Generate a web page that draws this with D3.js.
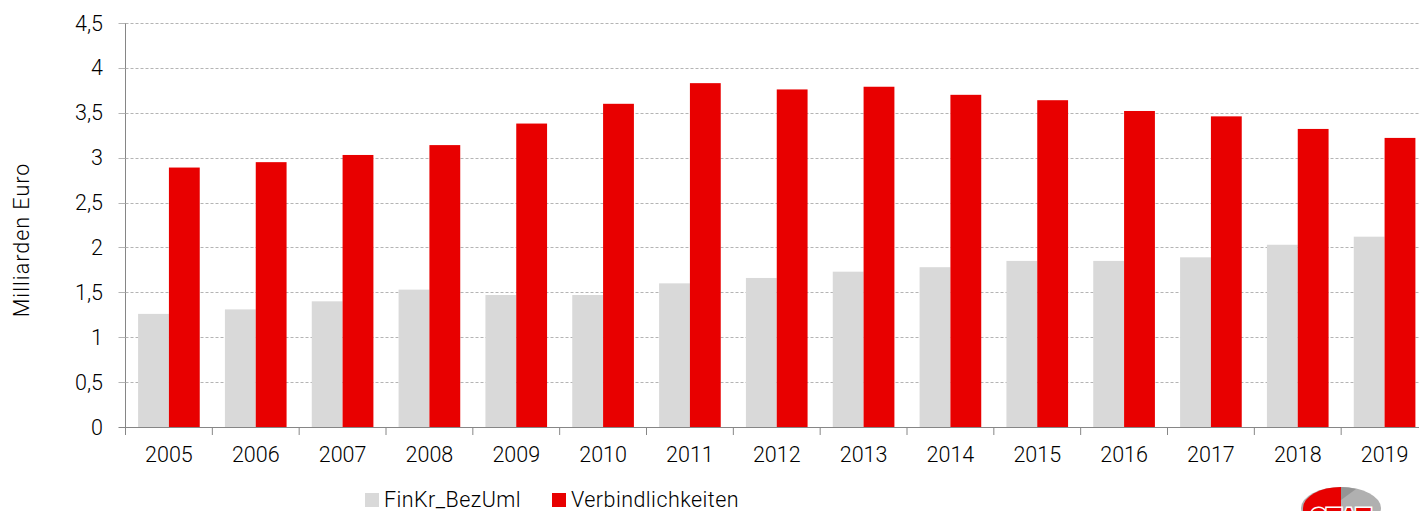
<!DOCTYPE html>
<html>
<head>
<meta charset="utf-8">
<script src="https://cdn.jsdelivr.net/npm/d3@7"></script>
<style>
  html, body { margin: 0; padding: 0; background: #fff; overflow: hidden; }
  text { font-family: Roboto, sans-serif; font-weight: 300; fill: #000; }
</style>
</head>
<body>
<div id="chart"></div>
<script>
const years = ["2005", "2006", "2007", "2008", "2009", "2010", "2011", "2012", "2013", "2014", "2015", "2016", "2017", "2018", "2019"];
const finKr = [1.26, 1.31, 1.40, 1.53, 1.47, 1.47, 1.60, 1.66, 1.73, 1.78, 1.85, 1.85, 1.89, 2.03, 2.12];
const verbindlichkeiten = [2.89, 2.95, 3.03, 3.14, 3.38, 3.60, 3.83, 3.76, 3.79, 3.70, 3.64, 3.52, 3.46, 3.32, 3.22];
const yTicks = [0, 0.5, 1, 1.5, 2, 2.5, 3, 3.5, 4, 4.5];
const seriesNames = ["FinKr_BezUml", "Verbindlichkeiten"];
const seriesColors = ["#d9d9d9", "#e80000"];

// Canvas
const canvasWidth = 1419;
const canvasHeight = 511;
const leftPadding = 125.5;
const plotRight = 1428;
const topPadding = 23;
const axisY = 427;
const fontSize = 21.5;

const svg = d3.select("#chart")
  .append("svg")
  .attr("width", canvasWidth)
  .attr("height", canvasHeight)
  .style("display", "block");

// Scales
const xScale = d3.scaleBand()
  .domain(years)
  .range([leftPadding, plotRight])
  .paddingInner(0.29)
  .paddingOuter(0.145);
const xInner = d3.scaleBand()
  .domain(seriesNames)
  .range([0, xScale.bandwidth()]);
const yScale = d3.scaleLinear()
  .domain([0, 4.5])
  .range([axisY, topPadding]);
const fmt = d => String(d).replace(".", ",");

// Gridlines
svg.append("g")
  .selectAll("line")
  .data(yTicks.filter(d => d > 0))
  .join("line")
  .attr("x1", leftPadding)
  .attr("x2", canvasWidth)
  .attr("y1", d => Math.round(yScale(d)) + 0.5)
  .attr("y2", d => Math.round(yScale(d)) + 0.5)
  .style("stroke", "#b4b4b4")
  .style("stroke-width", 1)
  .style("stroke-dasharray", "3,2");

// Bars
[finKr, verbindlichkeiten].forEach(function(values, i) {
  svg.append("g")
    .selectAll("rect")
    .data(values)
    .join("rect")
    .attr("x", (d, j) => xScale(years[j]) + xInner(seriesNames[i]))
    .attr("y", d => yScale(d))
    .attr("width", xInner.bandwidth())
    .attr("height", d => axisY - yScale(d))
    .attr("fill", seriesColors[i]);
});

// Y axis
svg.append("line")
  .attr("x1", leftPadding).attr("x2", leftPadding)
  .attr("y1", topPadding).attr("y2", axisY + 8)
  .style("stroke", "#868686");
svg.append("g")
  .selectAll("line")
  .data(yTicks)
  .join("line")
  .attr("x1", leftPadding - 7)
  .attr("x2", leftPadding)
  .attr("y1", d => Math.round(yScale(d)) + 0.5)
  .attr("y2", d => Math.round(yScale(d)) + 0.5)
  .style("stroke", d => d === 0 ? "#868686" : "#b4b4b4");
svg.append("g")
  .selectAll("text")
  .data(yTicks)
  .join("text")
  .text(fmt)
  .attr("x", 103)
  .attr("y", d => yScale(d) + 7.5)
  .attr("text-anchor", "end")
  .style("font-size", fontSize + "px");

// X axis
svg.append("line")
  .attr("x1", leftPadding).attr("x2", canvasWidth)
  .attr("y1", axisY + 0.5).attr("y2", axisY + 0.5)
  .style("stroke", "#868686");
svg.append("g")
  .selectAll("line")
  .data(years)
  .join("line")
  .attr("x1", d => xScale(d) - xScale.step() * 0.145)
  .attr("x2", d => xScale(d) - xScale.step() * 0.145)
  .attr("y1", axisY)
  .attr("y2", axisY + 8)
  .style("stroke", "#868686");
svg.append("g")
  .selectAll("text")
  .data(years)
  .join("text")
  .text(d => d)
  .attr("x", d => xScale(d) + xScale.bandwidth() / 2)
  .attr("y", axisY + 35)
  .attr("text-anchor", "middle")
  .style("font-size", fontSize + "px");

// Axis title
svg.append("text")
  .text("Milliarden Euro")
  .attr("transform", "translate(29,240) rotate(-90)")
  .attr("text-anchor", "middle")
  .style("font-size", fontSize + "px")
  .style("letter-spacing", "1px");

// Legend
const legendX = [365, 552];
seriesNames.forEach(function(name, i) {
  svg.append("rect")
    .attr("x", legendX[i]).attr("y", 493)
    .attr("width", 14).attr("height", 14)
    .attr("fill", seriesColors[i]);
  svg.append("text")
    .text(name)
    .attr("x", legendX[i] + 19)
    .attr("y", 507)
    .style("font-size", fontSize + "px")
    .style("letter-spacing", "0.45px");
});

// Logo, cut off at the bottom edge
const logo = svg.append("g");
logo.append("ellipse")
  .attr("cx", 1341).attr("cy", 508)
  .attr("rx", 40).attr("ry", 21)
  .attr("fill", "#b0b0b0");
logo.append("path")
  .attr("d", "M1341,487 A38,21 0 0 0 1303,508 L1303,511 L1341,511 Z")
  .attr("fill", "#e80000");
logo.append("path")
  .attr("d", "M1341,487 L1341,500 L1356,489 A40,21 0 0 0 1341,487 Z")
  .attr("fill", "#949494");
logo.append("text")
  .text("STAT")
  .attr("x", 1341)
  .attr("y", 527)
  .attr("text-anchor", "middle")
  .style("font-size", "25px")
  .style("font-weight", "bold")
  .style("fill", "#e80000")
  .style("stroke", "#fff")
  .style("stroke-width", 3)
  .style("paint-order", "stroke");
</script>
</body>
</html>
